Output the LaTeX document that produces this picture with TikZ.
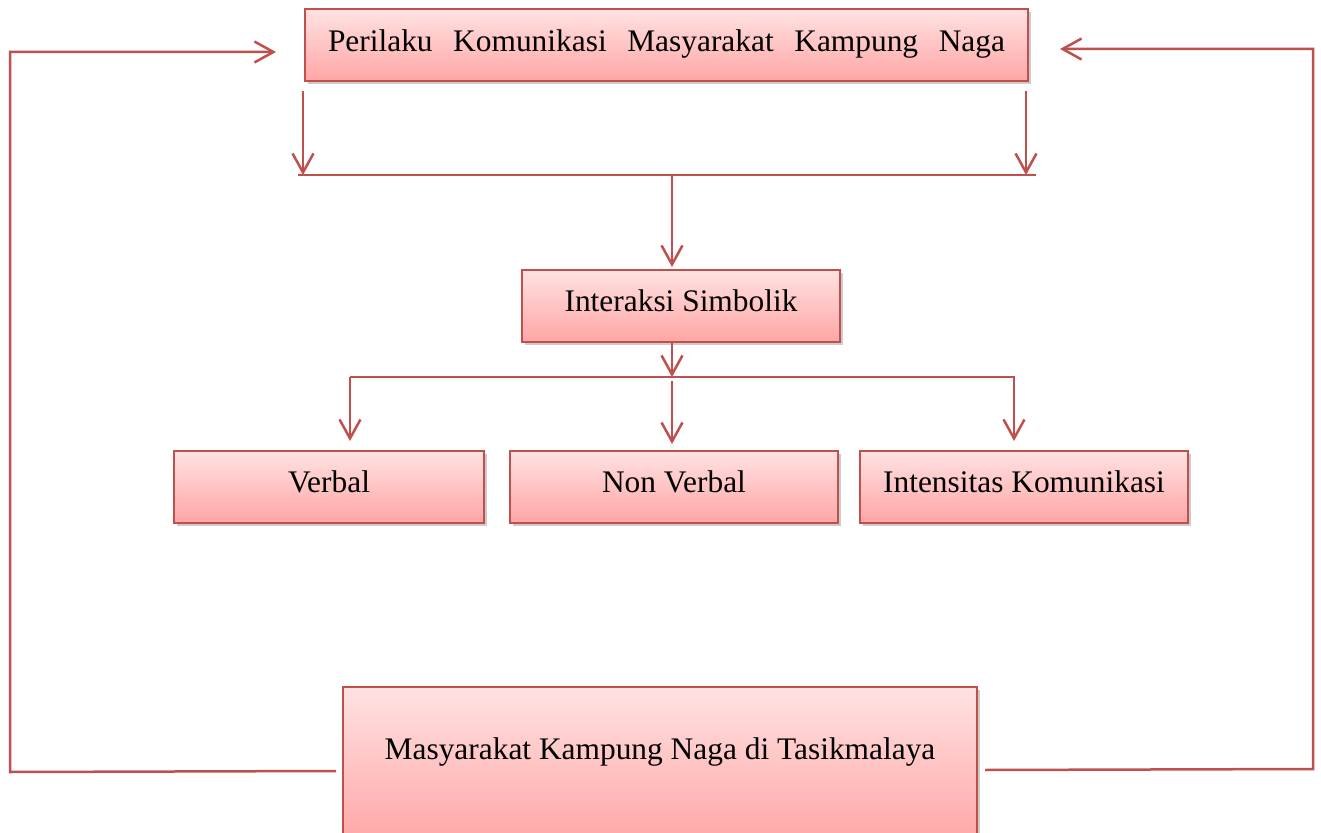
\documentclass[tikz,border=0pt]{standalone}
\usepackage{fontspec}
\setmainfont{Liberation Serif}
\usetikzlibrary{arrows.meta,shadows}
\definecolor{eLine}{HTML}{C0504D}
\definecolor{eTop}{HTML}{FFE2E2}
\definecolor{eBot}{HTML}{FFA5A5}
\tikzset{box/.style={rectangle, draw=eLine, line width=1pt, top color=eTop,
  bottom color=eBot, inner xsep=0pt, inner ysep=0pt, text height=21pt,
  text depth=15pt, minimum height=35.5pt, font=\fontsize{15.7pt}{18pt}\selectfont,
  drop shadow={shadow xshift=1.5pt, shadow yshift=-1.5pt, opacity=.4}}}
\tikzset{a/.style={draw, eLine, line width=1.25pt,
  -{Straight Barb[length=9.5pt,width=10.5pt]}}}
\tikzset{l/.style={draw, eLine, line width=1.25pt}}

\begin{document}
\begin{tikzpicture}[x=0.5pt,y=-0.5pt]
        \useasboundingbox (0,0) rectangle (1321,833);
        %% boxes
        \node (pk) at (666.5,45.5) [box, minimum width=361.5pt]
          {\hbox to 338.5pt{Perilaku\hfill Komunikasi\hfill Masyarakat\hfill Kampung\hfill Naga}};
        \node (is) at (681,306) [box, minimum width=159pt] {Interaksi Simbolik};
        \node (vb) at (329,487) [box, minimum width=155pt] {Verbal};
        \node (nv) at (674,487) [box, minimum width=164pt] {Non Verbal};
        \node (ik) at (1024,487) [box, minimum width=164pt] {Intensitas Komunikasi};
        \node (mk) at (660,686) [box, anchor=north, minimum width=317pt,
          text height=36pt, text depth=43pt] {Masyarakat Kampung Naga di Tasikmalaya};
        %% first split
        \coordinate (b1) at (298,175);
        \coordinate (b2) at (1036,175);
        \coordinate (m1) at (672,175);
        \coordinate (s1) at (303,91);
        \coordinate (s2) at (1026,91);
        \draw [a] (s1) -- (s1 |- b1);
        \draw [a] (s2) -- (s2 |- b1);
        \draw [l] (b1) -- (b2);
        \draw [a] (m1) -- ([yshift=1pt]m1 |- is.north);
        %% second split
        \coordinate (m2) at (672,377);
        \coordinate (c1) at (350,377);
        \coordinate (c2) at (1015,377);
        \coordinate (c3) at (672,381);
        \draw [a] (m2 |- is.south) -- (m2);
        \draw [l] (c1) -- (c2);
        \draw [a] (c1) -- (350,441);
        \draw [a] (c3) -- (672,444);
        \draw [a] ([xshift=-0.5pt]c2) -- (1014,441);
        %% feedback loops
        \coordinate (lo) at (336,771);
        \coordinate (li) at (276,52);
        \coordinate (ro) at (985,770);
        \coordinate (ri) at (1060,49);
        \draw [a] (lo) -- (10,772) |- (li);
        \draw [a] (ro) -- (1313,769) |- (ri);
\end{tikzpicture}
\end{document}
